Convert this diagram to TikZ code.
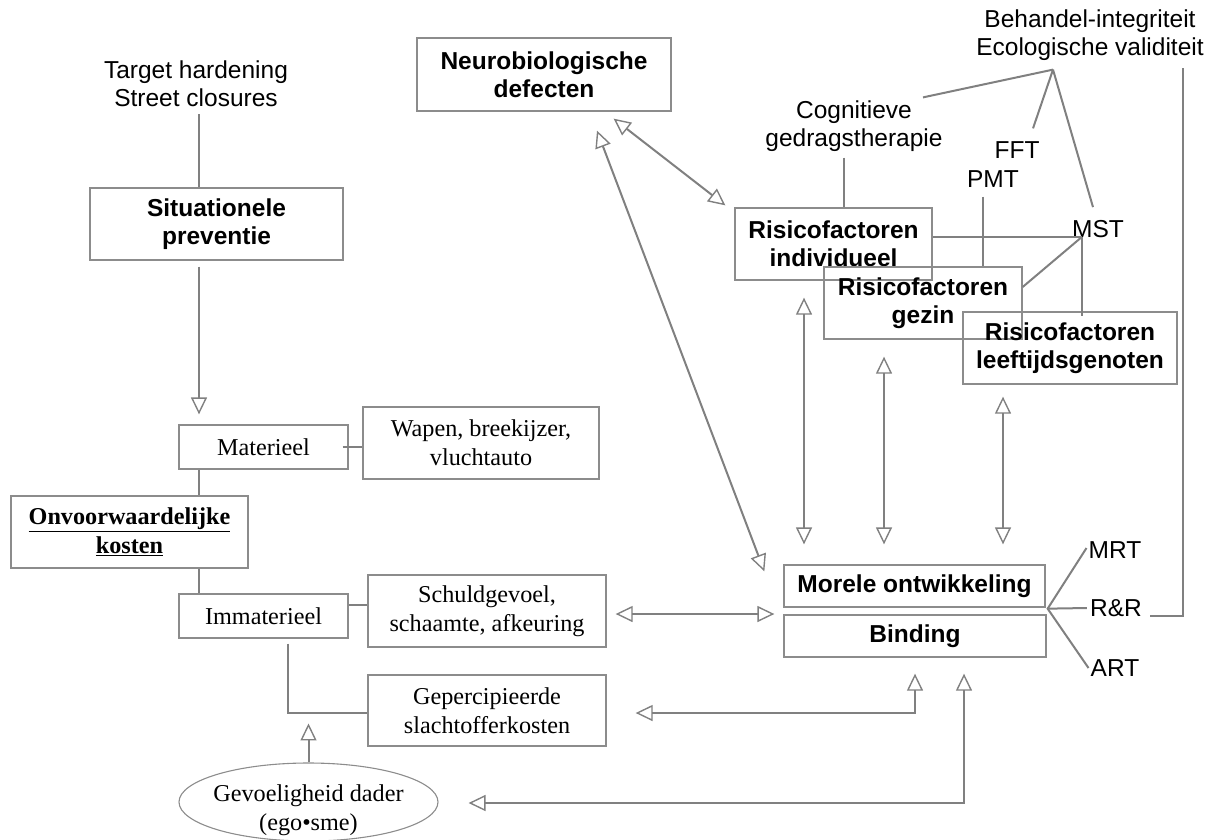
\documentclass[tikz,border=0pt]{standalone}
\usepackage{fontspec}
\setmainfont{Liberation Serif}
\newfontfamily\arialf{Liberation Sans}
\usetikzlibrary{arrows.meta,shapes.geometric,calc}
\definecolor{linegray}{RGB}{128,128,128}
\definecolor{boxgray}{RGB}{140,140,140}
\begin{document}
\begin{tikzpicture}[x=1pt,y=-1pt,
  >={Triangle[open,length=17pt,width=16pt,line width=1.4pt]},
  box/.style={draw=boxgray,line width=1.3pt,inner sep=0pt,align=center},
  sb/.style={font=\arialf\bfseries\fontsize{24.5}{28}\selectfont},
  sr/.style={font=\arialf\fontsize{24.5}{28}\selectfont},
  tm/.style={font=\fontsize{24.2}{29}\selectfont},
  tmb/.style={font=\fontsize{24.2}{29}\selectfont\bfseries},
  lbl/.style={inner sep=0pt,align=center},
  conn/.style={draw=linegray,line width=2pt}]

\useasboundingbox (0,0) rectangle (1215,839);

% boxes
\node[box,sb,minimum width=253pt,minimum height=72pt] (sit) at (216.5,224) {Situationele\\preventie};
\node[box,sb,minimum width=254pt,minimum height=73pt] (neu) at (544,74.5) {Neurobiologische\\defecten};
\node[box,sb,minimum width=197pt,minimum height=72pt] (ind) at (833.5,244) {Risicofactoren\\individueel};
\node[box,sb,minimum width=198pt,minimum height=72pt] (gez) at (923,303) {Risicofactoren\\gezin};
\node[box,sb,minimum width=214pt,minimum height=72pt] (lee) at (1070,348) {Risicofactoren\\leeftijdsgenoten};
\node[box,sb,minimum width=261pt,minimum height=42pt] (mor) at (914.5,586) {Morele ontwikkeling};
\node[box,sb,minimum width=262pt,minimum height=42pt] (bin) at (915,636) {Binding};
\node[box,tm,minimum width=169pt,minimum height=44pt] (mat) at (263.5,447) {Materieel};
\node[box,tm,minimum width=236pt,minimum height=72pt] (wap) at (481,443) {Wapen, breekijzer,\\vluchtauto};
\node[box,tmb,minimum width=237pt,minimum height=72pt] (onv) at (129.5,532) {\underline{Onvoorwaardelijke}\\\underline{kosten}};
\node[box,tm,minimum width=169pt,minimum height=44pt] (imm) at (263.5,616) {Immaterieel};
\node[box,tm,minimum width=238pt,minimum height=72pt] (sch) at (487,611) {Schuldgevoel,\\schaamte, afkeuring};
\node[box,tm,minimum width=238pt,minimum height=71pt] (gep) at (487,710.5) {Gepercipieerde\\slachtofferkosten};
\node[draw=boxgray,line width=1.1pt,ellipse,inner sep=0pt,minimum width=259pt,minimum height=78pt] (ell) at (308.5,802) {};
\node[lbl,tm] (elltxt) at (308.5,810) {Gevoeligheid dader\\(ego•sme)};

% labels
\node[lbl,sr] (tgt) at (196,84) {Target hardening\\Street closures};
\node[lbl,sr] (beh) at (1090,35) {Behandel-integriteit\\Ecologische validiteit};
\node[lbl,sr] (cog) at (854,126) {Cognitieve\\gedragstherapie};
\node[lbl,sr] (fft) at (1017,150) {FFT};
\node[lbl,sr] (pmt) at (993,179) {PMT};
\node[lbl,sr] (mst) at (1098,229) {MST};
\node[lbl,sr] (mrt) at (1115,550) {MRT};
\node[lbl,sr] (rr) at (1116,608) {R\&R};
\node[lbl,sr] (art) at (1115,668) {ART};

% helper coordinates
\coordinate (cA) at (199,0);
\coordinate (cB) at (288,0);
\coordinate (cD) at (964,0);
\coordinate (cG) at (844,0);
\coordinate (cH) at (983,0);
\coordinate (v1) at (804,0);
\coordinate (v2) at (884,0);
\coordinate (v3) at (1003,0);
\coordinate (rtop) at (1183,68);
\coordinate (bconv) at ($(beh.south)+(-37,9)$);
\coordinate (mstp) at ($(mst.south west)+(10,-1)$);
\coordinate (fan) at ($(mor.south east)+(2,1)$);

% left chain
\draw[conn,shorten <=7pt] (tgt.south -| cA) -- (sit.north -| cA);
\draw[conn,->,shorten <=6pt,shorten >=10pt] (sit.south -| cA) -- (mat.north -| cA);
\draw[conn] ([xshift=-6pt]mat.east) -- (mat.east -| wap.west);
\draw[conn] (mat.south -| cA) -- (onv.north -| cA);
\draw[conn] (onv.south -| cA) -- (imm.north -| cA);
\draw[conn] ([yshift=11pt]imm.east) -- ([yshift=6pt]sch.west);
\draw[conn,shorten <=5pt] (imm.south -| cB) |- ($(gep.west)+(0,2.5)$);
\draw[conn,->] (ell.north) -- ++(0,-39);

% arrows to Morele / Binding
\draw[conn,<->,shorten <=9pt,shorten >=9pt] ($(sch.east)+(0,3)$) -- ($(sch.east -| mor.west)+(0,3)$);
\draw[conn,<->,shorten <=29pt,shorten >=16pt] ($(gep.east)+(0,2.5)$) -- ($(gep.east -| bin.south)+(0,2.5)$) -- (bin.south);
\draw[conn,<->,shorten <=30pt,shorten >=16pt] ($(ell.east)+(0,1)$) -- ($(ell.east -| cD)+(0,1)$) -- (bin.south -| cD);
\draw[conn,<->] ($(neu.south east)+(-58,7)$) -- ($(ind.north west)+(-9,-2)$);
\draw[conn,<->] ($(neu.south)+(53,19)$) -- ($(mor.north west)+(-19,7)$);
\draw[conn,<->,shorten <=17pt,shorten >=20pt] (ind.south -| v1) -- (mor.north -| v1);
\draw[conn,<->,shorten <=17pt,shorten >=20pt] (gez.south -| v2) -- (mor.north -| v2);
\draw[conn,<->,shorten <=12pt,shorten >=20pt] (lee.south -| v3) -- (mor.north -| v3);

% treatment lines
\draw[conn] ($(mrt.west)+(-2,-2)$) -- (fan) -- ($(art.west)+(-2,0)$);
\draw[conn] (fan) -- ($(rr.west)+(-3,0)$);
\draw[conn] ($(rr.east)+(8,8)$) -| (rtop);
\draw[conn] (bconv) -- ($(cog.north)+(69,-3)$);
\draw[conn] (bconv) -- ($(fft.north)+(16,-13)$);
\draw[conn] (bconv) -- ($(mst.north)+(-5,-13)$);
\draw[conn,shorten <=6pt] (cog.south -| cG) -- (ind.north -| cG);
\draw[conn,shorten <=9pt] (pmt.south -| cH) -- (gez.north -| cH);
\draw[conn] (mstp) -- (mstp -| ind.east);
\draw[conn] (mstp) -- ($(gez.east)+(0,-16)$);
\draw[conn,shorten >=-5pt] (mstp) -- (mstp |- lee.north);
\end{tikzpicture}
\end{document}
